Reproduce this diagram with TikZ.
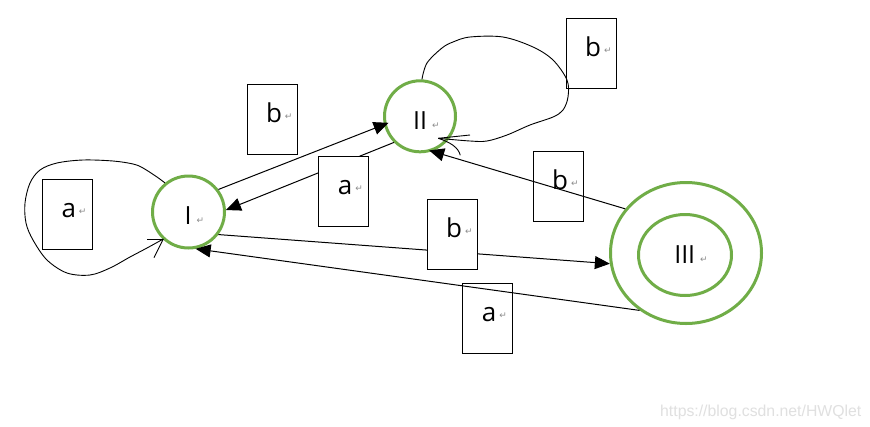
\documentclass[tikz,border=0pt]{standalone}
\usepackage{fontspec}
\setmainfont{Open Sans}
\newfontfamily\retfont{DejaVu Sans}
\newfontfamily\wmfont{Liberation Sans}
\usetikzlibrary{arrows.meta,shapes.geometric,calc}
\definecolor{stategreen}{HTML}{70AD47}
\definecolor{retgray}{HTML}{8C8C8C}
\definecolor{wmgray}{HTML}{E0E0E0}
\newcommand\retmark[2]{\hspace{#1pt}\raisebox{#2pt}{\retfont\fontsize{9}{9}\selectfont\color{retgray}↵}}
\begin{document}
\begin{tikzpicture}[x=1pt,y=-1pt,
  dfastate/.style={circle, draw=stategreen, line width=3pt, minimum size=#1, inner sep=0pt},
  accouter/.style={ellipse, draw=stategreen, line width=3pt, minimum width=151pt, minimum height=141pt, inner sep=0pt},
  accinner/.style={ellipse, draw=stategreen, line width=3pt, minimum width=93pt, minimum height=81pt, inner sep=0pt},
  lblbox/.style={rectangle, draw=black, line width=0.9pt, fill=white, minimum width=50pt, minimum height=70pt, inner sep=0pt},
  boxtext/.style={anchor=base, inner sep=0pt, font=\fontsize{26}{26}\selectfont},
  statetext/.style={anchor=base, inner sep=0pt, font=\fontsize{25}{25}\selectfont},
  trans/.style={draw=black, line width=1pt, -{Triangle[length=15pt,width=13pt]}},
  loopline/.style={draw=black, line width=0.9pt},
]
\fill[white] (0,0) rectangle (870,426);
\path[use as bounding box] (0,0) rectangle (870,426);

% states
\node[dfastate=72pt] (I) at (188.5,212) {};
\node[dfastate=71pt] (II) at (420,116.3) {};
\node[accouter] (III) at (686,253) {};
\node[accinner] (IIIin) at (685,255) {};
\node[statetext] (tI) at ($(I.center)+(6,12)$) {I\retmark{5}{1}};
\node[statetext] (tII) at ($(II.center)+(6.3,12.7)$) {II\retmark{5}{1}};
\node[statetext] (tIII) at ($(III.center)+(5,10)$) {III\retmark{5}{0.5}};

% transitions hidden behind label boxes
\draw[trans] (II.225) -- (I.3);
\draw[trans] (I.323) -- (III.188);

% label boxes
\node[lblbox] (bA1) at (67,214) {};
\node[lblbox] (bB1) at (272.3,119.3) {};
\node[lblbox] (bA2) at (343.3,191.2) {};
\node[lblbox] (bB2) at (591.3,53.3) {};
\node[lblbox] (bB3) at (558.3,186.3) {};
\node[lblbox] (bB4) at (452.3,234.2) {};
\node[lblbox] (bA3) at (487.3,318.3) {};
\node[boxtext] at ($(bA1.center)+(7,3)$) {a\retmark{3}{3}};
\node[boxtext] at ($(bB1.center)+(7,3)$) {b\retmark{3}{3}};
\node[boxtext] at ($(bA2.center)+(7,3)$) {a\retmark{3}{3}};
\node[boxtext] at ($(bB2.center)+(7,3)$) {b\retmark{3}{3}};
\node[boxtext] at ($(bB3.center)+(7,3)$) {b\retmark{3}{3}};
\node[boxtext] at ($(bB4.center)+(7,3)$) {b\retmark{3}{3}};
\node[boxtext] at ($(bA3.center)+(7,3)$) {a\retmark{3}{3}};

% transitions drawn over boxes
\draw[trans, shorten >=-5pt] (I.37) -- (II.193);
\draw[trans, shorten >=-3pt] (III.144) -- (II.289);
\draw[trans] (III.231) -- (I.281);

% self loop on I
\coordinate (tipI) at ($(I.center)+(-25.2,27)$);
\draw[loopline] plot[smooth, tension=0.55] coordinates {(I.129) (157,177) (143,168) (133,164) (113,161) (83,160) (57,163) (40,170) (30,183) (25,203) (26,223) (33,240) (47,260) (67,273) (90,275) (110,268) (130,257) (147,248) (tipI)};
\draw[loopline] (tipI) -- ($(tipI)+(-16.6,0)$);
\draw[loopline] (tipI) -- ($(tipI)+(-9.3,18.7)$);

% self loop on II
\coordinate (tipII) at ($(II.center)+(18.3,22)$);
\draw[loopline] plot[smooth, tension=0.55] coordinates {(II.87) (427,63) (442,48) (453,42) (470,37) (503,37) (533,47) (553,60) (567,80) (568,97) (563,110) (553,117) (530,125) (507,135) (487,141) (470,141) (tipII)};
\draw[loopline] (tipII) -- ($(tipII)+(31.7,-3.3)$);
\draw[loopline] (tipII) .. controls ($(tipII)+(12,4)$) and ($(tipII)+(20,9)$) .. ($(tipII)+(22,17)$);

% watermark
\node[anchor=base west, inner sep=0pt, text=wmgray, font=\wmfont\fontsize{15.8}{16}\selectfont] (wm) at (660,416) {https://blog.csdn.net/HWQlet};
\end{tikzpicture}
\end{document}
